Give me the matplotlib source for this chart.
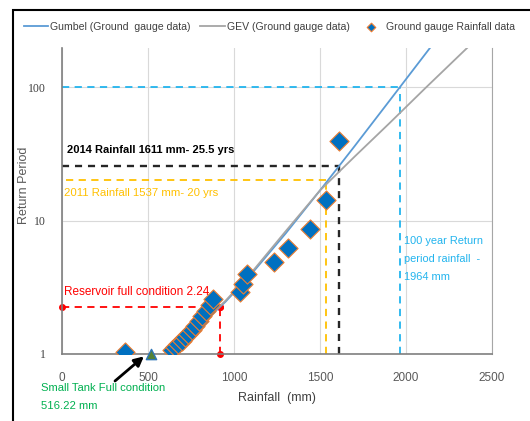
import matplotlib
matplotlib.use('Agg')
import matplotlib.pyplot as plt
from matplotlib.patches import Rectangle

plt.rcParams['font.family'] = ['Liberation Sans', 'DejaVu Sans']

# observed annual rainfall (mm) and return period (yrs)
rain_obs = [366, 640, 658, 676, 695, 715, 735, 755, 775, 795, 815, 835, 858, 880,
            1035, 1052, 1076, 1233, 1314, 1442, 1537, 1611]
rp_obs = [1.03, 1.08, 1.13, 1.19, 1.26, 1.34, 1.42, 1.52, 1.63, 1.76, 1.91, 2.09,
          2.31, 2.58, 2.93, 3.37, 3.98, 4.85, 6.21, 8.64, 14.2, 39.5]

# fitted curves
gumbel_x = [650, 750, 850, 950, 1100, 1300, 1500, 1700, 1900, 2139]
gumbel_rp = [1.23, 1.47, 1.86, 2.46, 3.96, 7.99, 16.8, 35.9, 77.7, 196]
gev_x = [650, 750, 850, 950, 1100, 1300, 1500, 1700, 1900, 2119, 2355]
gev_rp = [1.26, 1.5, 1.9, 2.5, 4.05, 8.3, 16.8, 30, 53, 100, 196]

small_tank = 516.22
reservoir_rain, reservoir_rp = 918, 2.24
rain_2014, rp_2014 = 1611, 25.5
rain_2011, rp_2011 = 1537, 20
rain_100 = 1964

fig = plt.figure(figsize=(5.3, 4.21), dpi=100)
ax = fig.add_axes([62/530, 1-354/421, 430/530, 306/421])

# outer frame
fig.patches.append(Rectangle((13/530, -0.05), 1.0, 1-10/421+0.05, transform=fig.transFigure,
                             fill=False, edgecolor='black', linewidth=1.5))

ax.set_yscale('log')
ax.set_xlim(0, 2500)
ax.set_ylim(1, 196)
ax.set_xticks([0, 500, 1000, 1500, 2000, 2500])
ax.set_yticks([1, 10, 100])
ax.set_yticklabels(['1', '10', '100'], family='Liberation Serif', fontsize=8.5, color='#404040')
ax.minorticks_off()
ax.tick_params(axis='x', labelsize=8.5, labelcolor='#595959', length=0, pad=13)
ax.tick_params(axis='y', length=0, pad=12)
ax.grid(True, color='#d9d9d9', linewidth=0.8)
ax.set_axisbelow(True)
ax.spines['top'].set_visible(False)
for s in ['left', 'bottom']:
    ax.spines[s].set_color('#7f7f7f')
    ax.spines[s].set_linewidth(1.2)
ax.spines['right'].set_color('#a6a6a6')

ax.set_xlabel('Rainfall  (mm)', fontsize=9, color='#404040', labelpad=6)
ax.set_ylabel('Return Period', fontsize=9, color='#595959')
ax.yaxis.set_label_coords(-0.075, 0.552)

# guide lines
ax.plot([0, rain_100], [100, 100], color='#22b4ee', ls=(0, (4, 3)), lw=1.3)
ax.plot([rain_100, rain_100], [1, 100], color='#22b4ee', ls=(0, (4, 3)), lw=1.3)
ax.plot([0, rain_2014], [rp_2014, rp_2014], color='#262626', ls=(0, (3, 2.5)), lw=1.7)
ax.plot([rain_2014, rain_2014], [1, rp_2014], color='#262626', ls=(0, (3, 2.5)), lw=1.7)
ax.plot([25, rain_2011], [rp_2011, rp_2011], color='#ffc000', ls=(0, (4, 3)), lw=1.3)
ax.plot([rain_2011, rain_2011], [1, rp_2011], color='#ffc000', ls=(0, (4, 3)), lw=1.3)
ax.plot([0, reservoir_rain], [reservoir_rp, reservoir_rp], color='#ff0000', ls=(0, (4, 3)),
        lw=1.3, marker='o', markersize=4, clip_on=False)
ax.plot([reservoir_rain, reservoir_rain], [1, reservoir_rp], color='#ff0000', ls=(0, (4, 3)),
        lw=1.3, marker='o', markersize=4, clip_on=False)

l1, = ax.plot(gumbel_x, gumbel_rp, color='#5b9bd5', lw=1.3, label='Gumbel (Ground  gauge data)')
l2, = ax.plot(gev_x, gev_rp, color='#a5a5a5', lw=1.3, label='GEV (Ground gauge data)')
sc = ax.scatter(rain_obs, rp_obs, marker='D', s=95, facecolor='#0070c0', edgecolor='#ed7d31',
                linewidth=0.8, zorder=5, label='Ground gauge Rainfall data')
ax.scatter([small_tank], [1], marker='^', s=55, facecolor='#548235', edgecolor='#2e75b6',
           linewidth=1, zorder=6, clip_on=False)

ax.text(29, 33.8, '2014 Rainfall 1611 mm- 25.5 yrs', fontsize=8, fontweight='bold',
        color='#000000', va='center')
ax.text(12, 16.0, '2011 Rainfall 1537 mm- 20 yrs', fontsize=8.2, color='#ffc000', va='center')
ax.text(1988, 7.6, '100 year Return\nperiod rainfall  -\n1964 mm', fontsize=7.9,
        color='#22b4ee', va='top', linespacing=2.0)
ax.text(12, 2.91, 'Reservoir full condition 2.24', fontsize=8.5, color='#ff0000', va='center')

ax.annotate('', xy=(small_tank - 40, 0.96), xytext=(115, 40), textcoords='figure pixels',
            annotation_clip=False,
            arrowprops=dict(arrowstyle='-|>', color='black', lw=2, shrinkA=0, shrinkB=0,
                            mutation_scale=14))
fig.text(41/530, 1-397/421, 'Small Tank Full condition\n516.22 mm', fontsize=8.1,
         color='#00b050', ha='left', va='center', linespacing=1.95)

fig.legend(handles=[l1, l2, sc], loc='center', bbox_to_anchor=(0.508, 1-27/421), ncol=3,
           frameon=False, fontsize=7.6, handlelength=2.3, columnspacing=0.9, handletextpad=0.2,
           labelcolor='#404040', markerscale=0.45)

fig.savefig('out.png', dpi=100)
